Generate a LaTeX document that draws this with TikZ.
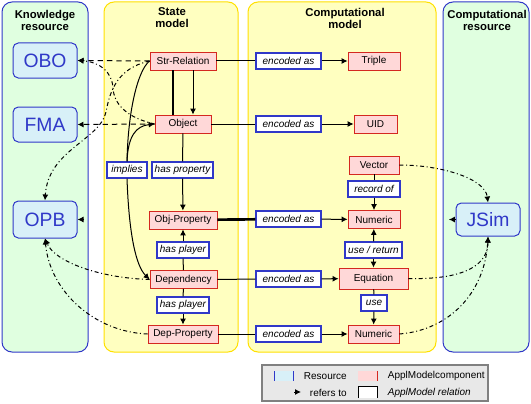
\documentclass[tikz,border=0pt]{standalone}
\usepackage{fontspec}
\setmainfont{Liberation Sans}
\usetikzlibrary{arrows.meta}

\definecolor{panelgreen}{RGB}{224,255,224}
\definecolor{panelyellow}{RGB}{255,255,192}
\definecolor{yellowline}{RGB}{255,224,0}
\definecolor{resblue}{RGB}{48,56,200}
\definecolor{resfill}{RGB}{216,240,248}
\definecolor{compfill}{RGB}{255,216,216}
\definecolor{compred}{RGB}{212,40,32}
\definecolor{legendgray}{RGB}{232,232,232}
\definecolor{legendline}{RGB}{128,128,128}

\tikzset{
  greenpanel/.style={draw=resblue, fill=panelgreen, rounded corners=7.5pt, line width=0.75pt},
  yellowpanel/.style={draw=yellowline, fill=panelyellow, rounded corners=7.5pt, line width=0.75pt},
  paneltitle/.style={align=center, font=\bfseries\fontsize{8.5}{9}\selectfont},
  resbox/.style={draw=resblue, fill=resfill, rounded corners=4pt, line width=0.75pt,
    minimum width=64*0.75pt, minimum height=35*0.75pt, text=resblue,
    font=\fontsize{14.5}{16}\selectfont},
  compbox/.style={draw=compred, fill=compfill, line width=0.6pt, inner sep=0pt,
    minimum height=18*0.75pt, font=\fontsize{7.5}{9}\selectfont},
  comp/.style={compbox, minimum width=#1*0.75pt},
  relbox/.style={draw=resblue, fill=white, line width=0.8pt, inner sep=0pt,
    minimum height=16*0.75pt, font=\itshape\fontsize{7.5}{9}\selectfont},
  rel/.style={relbox, minimum width=#1*0.75pt},
  refarrow/.style={-{Latex[length=4.5pt,width=4.5pt]}},
  dashref/.style={refarrow, dash pattern=on 4pt off 3pt},
  dotdashref/.style={refarrow, dash pattern=on 3pt off 2pt on 0.75pt off 2pt},
  legendtext/.style={anchor=west, font=\fontsize{7.5}{9}\selectfont}
}

\begin{document}
\begin{tikzpicture}[x=0.75pt,y=0.75pt,yscale=-1,xscale=1,line width=0.75pt]
  \useasboundingbox (0,0) rectangle (531,403);

  % panels
  \draw[greenpanel] (2,2) rectangle (88,352);
  \draw[yellowpanel] (104,2) rectangle (238,352);
  \draw[yellowpanel] (248,2) rectangle (436,352);
  \draw[greenpanel] (443,2) rectangle (529,352);

  \node[paneltitle] (krTitle) at (45,20) {Knowledge\\resource};
  \node[paneltitle] (smTitle) at (172,18) {State\\model};
  \node[paneltitle] (cmTitle) at (345,18) {Computational\\model};
  \node[paneltitle] (crTitle) at (487,20) {Computational\\resource};

  % resources
  \node[resbox] (OBO) at (45,60.5) {OBO};
  \node[resbox] (FMA) at (45,124.5) {FMA};
  \node[resbox, minimum height=37*0.75pt] (OPB) at (45,219.5) {OPB};
  \node[resbox, minimum height=33*0.75pt] (JSim) at (488,219.5) {JSim};

  % state model
  \node[comp=66] (StrRel) at (183,61) {Str-Relation};
  \node[comp=56] (Obj) at (183,124) {Object};
  \node[comp=68] (ObjProp) at (183,220) {Obj-Property};
  \node[comp=67] (Dep) at (183.5,279.5) {Dependency};
  \node[comp=70] (DepProp) at (183,334) {Dep-Property};

  % computational model
  \node[comp=52] (Triple) at (374,61) {Triple};
  \node[comp=43] (UID) at (375.5,124) {UID};
  \node[comp=50] (Vector) at (374,165) {Vector};
  \node[comp=52] (Num) at (374,219.5) {Numeric};
  \node[comp=69, minimum height=21*0.75pt] (Eqn) at (373.5,278.5) {Equation};
  \node[comp=51] (NumB) at (373.5,334) {Numeric};

  % relations
  \node[rel=65] (encA) at (288.5,61) {encoded as};
  \node[rel=65] (encB) at (288.5,124) {encoded as};
  \node[rel=65] (encC) at (288.5,219) {encoded as};
  \node[rel=65] (encD) at (288.5,279) {encoded as};
  \node[rel=65] (encE) at (288.5,334) {encoded as};
  \node[rel=40] (implies) at (127,170) {implies};
  \node[rel=61] (hasProp) at (182.5,170) {has property};
  \node[rel=52] (playerA) at (183,250) {has player};
  \node[rel=52] (playerB) at (183,305) {has player};
  \node[rel=52] (recordOf) at (374,189) {record of};
  \node[rel=57] (useRet) at (373.5,250) {use / return};
  \node[rel=26] (use) at (374,303) {use};

  % encoded as
  \draw (StrRel) -- (encA);
  \draw[refarrow] (encA) -- (Triple);
  \draw (Obj) -- (encB);
  \draw[refarrow] (encB) -- (UID);
  \draw[line width=2pt] (ObjProp) -- (encC);
  \draw[refarrow] (encC) -- (Num);
  \draw (Dep) -- (encD);
  \draw[refarrow] (encD) -- (Eqn);
  \draw (DepProp) -- (encE);
  \draw[refarrow] (encE) -- (NumB);

  % state model relations
  \draw[line width=1pt] ([xshift=-7.5pt]StrRel.south) -- ([xshift=-7.5pt]Obj.north);
  \draw[refarrow] ([xshift=7.5pt]StrRel.south) -- ([xshift=7.5pt]Obj.north);
  \draw (Obj) -- (hasProp);
  \draw[refarrow] (hasProp) -- (ObjProp);
  \draw (Dep) -- (playerA);
  \draw[refarrow] (playerA) -- (ObjProp);
  \draw (Dep) -- (playerB);
  \draw[refarrow] (playerB) -- (DepProp);
  \draw (StrRel.west) .. controls (138,70) and (128,110) .. (implies.north);
  \draw[refarrow] (implies.north) .. controls (128,136) and (136,126) .. (Obj.west);
  \draw[refarrow] (implies.south) .. controls (129,235) and (136,266) .. (Dep.west);

  % computational model relations
  \draw (Vector) -- (recordOf);
  \draw[refarrow] (recordOf) -- (Num);
  \draw[refarrow] (useRet) -- (Num);
  \draw[refarrow] (useRet) -- (Eqn);
  \draw (Eqn) -- (use);
  \draw[refarrow] (use) -- (NumB);

  % refers to
  \draw[dashref] (StrRel.west) -- (OBO.east);
  \draw[dashref] (Obj.west) -- (FMA.east);
  \draw[dotdashref] (Obj.west) .. controls (128,118) and (114,105) .. (113,88)
    .. controls (112,72) and (100,62) .. (OBO.east);
  \draw[dotdashref] (StrRel.west) .. controls (118,68) and (110,90) .. (106,112)
    .. controls (100,140) and (48,150) .. (OPB.north);
  \draw[dotdashref] (Dep.west) .. controls (100,278) and (55,262) .. (OPB.south);
  \draw[dotdashref] (DepProp.west) .. controls (95,332) and (50,292) .. (OPB.south);
  \draw[dotdashref] (Vector.east) .. controls (440,165) and (485,178) .. (JSim.north);
  \draw[dotdashref] (Eqn.east) .. controls (470,280) and (488,262) .. (JSim.south);
  \draw[dotdashref] (NumB.east) .. controls (450,330) and (485,292) .. (JSim.south);
  \coordinate (opbStub) at ([xshift=5pt]OPB.east);
  \draw[refarrow] (opbStub) -- (OPB.east);
  \coordinate (jsimStub) at ([xshift=-5pt]JSim.west);
  \draw[refarrow] (JSim.west) -- (jsimStub);

  % legend
  \draw[legendline, fill=legendgray, line width=1pt] (262,365) rectangle (488,401);
  \fill[resfill] (274,371) rectangle (293,381);
  \draw[resblue] (274,371) -- (274,381);
  \draw[resblue] (293,371) -- (293,381);
  \node[legendtext] (legRes) at (299,376) {Resource};
  \fill[compfill] (358,371) rectangle (377,381);
  \draw[compred] (377,371) -- (377,381);
  \node[legendtext] (legComp) at (383,376) {ApplModelcomponent};
  \coordinate (legTail) at (294,392);
  \coordinate (legHead) at (301,392);
  \draw[refarrow] (legTail) -- (legHead);
  \node[legendtext] (legRef) at (305,392.5) {refers to};
  \fill[white] (358,386) rectangle (377,398);
  \draw (358,398) -- (358,386) -- (377,386) -- (377,398);
  \node[legendtext, font=\itshape\fontsize{7.5}{9}\selectfont] (legRel) at (383,392.5) {ApplModel relation};
\end{tikzpicture}
\end{document}
